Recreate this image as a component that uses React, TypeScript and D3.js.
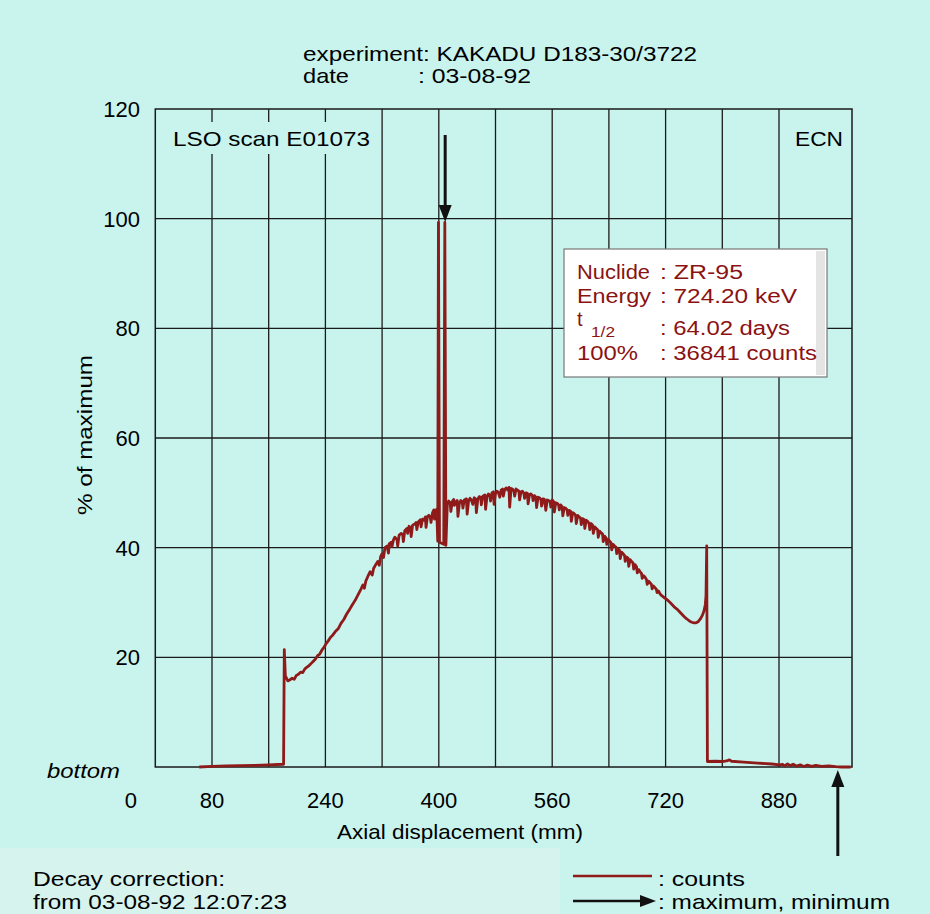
import React from "react";
import * as d3 from "d3";

// ---------- data ----------
const xGridMm = [80, 160, 240, 320, 400, 480, 560, 640, 720, 800, 880];
const xTickLabels = [80, 240, 400, 560, 720, 880];
const yGridPct = [20, 40, 60, 80, 100];
const yTickLabels = [20, 40, 60, 80, 100, 120];
const maxArrowMm = [409];
const minArrowMm = [963];

// axial displacement (mm), % of maximum
const countsProfile: [number, number][] = [
  [62, 0], [80, 0.1], [100, 0.2], [120, 0.25], [140, 0.3], [160, 0.4], [181, 0.5],
  [182, 21.4], [183.5, 16.6], [187, 15.7], [190, 15.9], [193, 16.2], [196, 16.0], [199, 16.7],
  [202, 16.9], [205, 17.3], [208, 17.2], [211, 17.9], [214, 18.2], [217, 18.5], [220, 18.9],
  [223, 19.3], [226, 19.7], [229, 20.3], [232, 20.6], [235, 21.3], [238, 21.8], [241, 22.5],
  [244, 23.0], [247, 23.6], [250, 24.0], [254, 24.7], [258, 25.2], [262, 26.2], [266, 26.9],
  [270, 27.9], [274, 28.7], [278, 29.6], [282, 30.4], [286, 31.4], [290, 32.4], [293, 33.2],
  [295, 32.6], [297, 33.9], [300, 34.8], [303, 35.6], [306, 35.0], [308, 36.2], [311, 36.9],
  [314, 37.5], [316, 36.8], [318, 38.4], [320, 38.9], [322, 38.2], [324, 40.0], [327, 40.3],
  [329, 39.0], [330, 40.7], [333, 41.0], [334, 40.2], [336, 41.4], [338, 41.9], [341, 41.5],
  [342, 40.3], [344, 42.3], [347, 42.6], [349, 42.4], [350, 41.1], [352, 43.1], [355, 43.5],
  [356, 42.6], [358, 43.9], [360, 43.7], [361, 42.0], [363, 44.1], [366, 44.3], [368, 44.6],
  [369, 43.3], [371, 44.7], [374, 45.1], [375, 43.8], [377, 45.2], [379, 45.0], [381, 45.6],
  [382, 43.7], [384, 45.7], [386, 45.9], [388, 45.5], [389, 44.6], [391, 46.3], [393, 46.9],
  [394, 45.2], [395, 46.4], [397, 47.0], [398.5, 41.2], [399.5, 99.3], [401, 41.0], [407, 40.6],
  [408.5, 99.3], [410, 40.4], [412, 47.9], [414, 48.5], [416, 48.2], [417, 46.6], [419, 48.4],
  [421, 48.8], [422, 47.7], [424, 48.3], [426, 48.6], [427, 45.7], [429, 48.0], [431, 48.6],
  [433, 48.4], [434, 47.2], [436, 48.7], [439, 48.9], [440, 46.1], [442, 48.5], [444, 49.0],
  [446, 48.7], [448, 47.9], [450, 49.1], [452, 48.9], [453, 46.4], [455, 48.8], [457, 49.3],
  [459, 49.2], [460, 47.8], [462, 49.4], [465, 49.6], [466, 47.0], [468, 49.3], [470, 49.8],
  [472, 49.5], [473, 48.5], [475, 50.0], [477, 50.2], [478, 47.9], [480, 49.9], [482, 50.3],
  [484, 50.1], [486, 49.2], [488, 50.5], [490, 50.7], [491, 49.4], [493, 50.6], [495, 50.9],
  [497, 50.5], [499, 51.0], [500, 47.4], [502, 50.8], [504, 50.7], [506, 50.3], [507, 49.4],
  [509, 50.7], [511, 50.5], [513, 50.3], [514, 48.7], [516, 50.2], [518, 50.3], [520, 49.9],
  [521, 49.0], [523, 50.0], [525, 49.9], [526, 48.0], [528, 49.7], [530, 49.8], [532, 49.5],
  [533, 48.6], [535, 49.5], [537, 49.2], [538, 47.3], [540, 49.2], [542, 49.1], [544, 48.8],
  [545, 47.6], [547, 48.9], [549, 48.8], [551, 46.8], [553, 48.7], [555, 48.6], [557, 48.4],
  [558, 47.4], [560, 48.7], [562, 48.4], [563, 46.5], [565, 48.2], [567, 48.1], [569, 47.8],
  [570, 46.9], [572, 47.8], [574, 47.5], [575, 45.8], [577, 47.3], [579, 47.2], [581, 46.9],
  [582, 45.9], [584, 46.8], [586, 46.6], [587, 44.8], [589, 46.4], [591, 46.2], [593, 45.9],
  [594, 44.4], [596, 45.9], [598, 45.6], [600, 45.4], [601, 44.2], [603, 45.3], [605, 45.1],
  [606, 43.5], [608, 45.0], [610, 44.8], [612, 44.4], [613, 43.3], [615, 44.4], [617, 44.1],
  [618, 42.6], [620, 43.8], [622, 43.5], [624, 43.3], [625, 41.9], [627, 43.0], [629, 42.7],
  [631, 42.5], [632, 41.1], [634, 42.1], [636, 41.8], [637, 40.6], [639, 41.5], [641, 41.2],
  [643, 40.9], [644, 39.6], [646, 40.6], [648, 40.3], [650, 40.1], [651, 38.9], [653, 39.8],
  [655, 39.5], [656, 38.0], [658, 39.2], [660, 38.9], [662, 38.6], [663, 37.5], [665, 38.3],
  [667, 38.1], [668, 36.6], [670, 37.8], [672, 37.5], [674, 37.2], [675, 36.1], [677, 36.9],
  [679, 36.5], [680, 35.4], [682, 36.0], [684, 35.6], [686, 35.3], [687, 34.4], [689, 34.9],
  [691, 34.6], [693, 34.2], [694, 33.3], [696, 33.9], [698, 33.6], [700, 33.3], [701, 32.5],
  [703, 33.0], [705, 32.7], [707, 32.4], [708, 31.8], [710, 32.1], [712, 31.6], [714, 31.3],
  [716, 31.1], [718, 30.9], [721, 30.6], [724, 30.3], [727, 29.9], [730, 29.5], [733, 29.1],
  [736, 28.8], [739, 28.4], [742, 28.0], [745, 27.6], [748, 27.2], [751, 26.9], [754, 26.6],
  [757, 26.4], [760, 26.3], [763, 26.3], [766, 26.5], [769, 27.0], [772, 27.7], [774, 28.4],
  [776, 29.6], [777, 31.2], [778, 40.3], [779, 1.0], [790, 1.05], [800, 1.0], [806, 1.1],
  [810, 1.3], [813, 1.05], [830, 0.9], [850, 0.7], [870, 0.55], [881, 0.4], [885, 0.5],
  [888, 0.2], [892, 0.55], [896, 0.25], [900, 0.5], [905, 0.15], [910, 0.4], [915, 0.1],
  [920, 0.35], [926, 0.1], [932, 0.3], [940, 0.1], [950, 0.2], [960, 0.05], [968, 0], [981, 0],
];

// ---------- layout ----------
const W = 930;
const H = 914;
const BG = "#c9f4ee";
const RED = "#8e1a1a";
const FONT = "'Liberation Sans', Arial, Helvetica, sans-serif";

const x = d3.scaleLinear().domain([0, 983]).range([155.3, 852]);
const y = d3.scaleLinear().domain([0, 120]).range([767, 109]);

export default function App() {
  const line = d3
    .line<[number, number]>()
    .x((d) => x(d[0]))
    .y((d) => y(d[1]));
  const [x0, x1] = x.range();
  const [yb, yt] = y.range();
  const mx = x(maxArrowMm[0]);
  const mn = x(minArrowMm[0]);

  return (
    <div style={{ position: "fixed", left: 0, top: 0 }}>
      <svg width={W} height={H} style={{ display: "block" }} fontFamily={FONT}>
        <rect x={0} y={0} width={W} height={H} fill={BG} />
        <rect x={0} y={848} width={560} height={66} fill="#d6f3ee" />

        {/* title */}
        <text x={303} y={61} fontSize={21} textLength={394} lengthAdjust="spacingAndGlyphs">
          experiment: KAKADU D183-30/3722
        </text>
        <text x={303} y={83} fontSize={21} textLength={46} lengthAdjust="spacingAndGlyphs">
          date
        </text>
        <text x={418} y={83} fontSize={21} textLength={113} lengthAdjust="spacingAndGlyphs">
          : 03-08-92
        </text>

        {/* grid */}
        {xGridMm.map((v) => (
          <line key={"gx" + v} x1={x(v)} x2={x(v)} y1={yt} y2={yb} stroke="#1a1a1a" strokeWidth={1.3} />
        ))}
        {yGridPct.map((v) => (
          <line key={"gy" + v} x1={x0} x2={x1} y1={y(v)} y2={y(v)} stroke="#1a1a1a" strokeWidth={1.3} />
        ))}
        <rect x={x0} y={yt} width={x1 - x0} height={yb - yt} fill="none" stroke="#1a1a1a" strokeWidth={1.5} />

        {/* corner labels */}
        <rect x={163} y={122} width={217} height={32} fill={BG} />
        <text x={173} y={146} fontSize={21} textLength={197} lengthAdjust="spacingAndGlyphs">
          LSO scan E01073
        </text>
        <text x={795} y={146} fontSize={21} textLength={48} lengthAdjust="spacingAndGlyphs">
          ECN
        </text>

        {/* y ticks */}
        {yTickLabels.map((v) => (
          <text key={"yl" + v} x={140} y={y(v) + 8} fontSize={22} textAnchor="end">
            {v}
          </text>
        ))}
        <text x={137} y={808} fontSize={22} textAnchor="end">0</text>
        <text x={47} y={778} fontSize={21} fontStyle="italic" textLength={73} lengthAdjust="spacingAndGlyphs">
          bottom
        </text>
        <text
          transform="translate(92,435) rotate(-90)"
          fontSize={21}
          textAnchor="middle"
          textLength={160}
          lengthAdjust="spacingAndGlyphs"
        >
          % of maximum
        </text>

        {/* x ticks */}
        {xTickLabels.map((v) => (
          <text key={"xl" + v} x={x(v)} y={808} fontSize={22} textAnchor="middle">
            {v}
          </text>
        ))}
        <text x={337} y={839} fontSize={21} textLength={246} lengthAdjust="spacingAndGlyphs">
          Axial displacement (mm)
        </text>

        {/* data */}
        <path
          d={line(countsProfile) || ""}
          fill="none"
          stroke={RED}
          strokeWidth={2.8}
          strokeLinejoin="round"
        />

        {/* max / min arrows */}
        <line x1={mx} x2={mx} y1={135} y2={207} stroke="#111" strokeWidth={3} />
        <polygon points={`${mx - 6.5},205 ${mx + 6.5},205 ${mx},222`} fill="#111" />
        <line x1={mn} x2={mn} y1={856} y2={784} stroke="#111" strokeWidth={3} />
        <polygon points={`${mn - 6.5},787 ${mn + 6.5},787 ${mn},770`} fill="#111" />

        {/* info box */}
        <rect x={564} y={249} width={263} height={128} fill="#ffffff" stroke="#777" strokeWidth={1.2} />
        <rect x={816} y={251} width={9} height={124} fill="#e4e4e4" />
        <g fill="#8b1212" fontSize={20}>
          <text x={577} y={279} textLength={73} lengthAdjust="spacingAndGlyphs">Nuclide</text>
          <text x={660} y={279} textLength={83} lengthAdjust="spacingAndGlyphs">: ZR-95</text>
          <text x={577} y={303} textLength={74} lengthAdjust="spacingAndGlyphs">Energy</text>
          <text x={660} y={303} textLength={137} lengthAdjust="spacingAndGlyphs">: 724.20 keV</text>
          <text x={577} y={326}>t</text>
          <text x={591} y={337} fontSize={15} textLength={24} lengthAdjust="spacingAndGlyphs">1/2</text>
          <text x={660} y={335} textLength={130} lengthAdjust="spacingAndGlyphs">: 64.02 days</text>
          <text x={577} y={360} textLength={61} lengthAdjust="spacingAndGlyphs">100%</text>
          <text x={660} y={360} textLength={157} lengthAdjust="spacingAndGlyphs">: 36841 counts</text>
        </g>

        {/* footer */}
        <text x={33} y={886} fontSize={21} textLength={192} lengthAdjust="spacingAndGlyphs">
          Decay correction:
        </text>
        <text x={33} y={909} fontSize={21} textLength={254} lengthAdjust="spacingAndGlyphs">
          from 03-08-92 12:07:23
        </text>

        {/* legend */}
        <line x1={573} x2={652} y1={876} y2={876} stroke={RED} strokeWidth={2.5} />
        <text x={658} y={886} fontSize={21} textLength={87} lengthAdjust="spacingAndGlyphs">
          : counts
        </text>
        <line x1={573} x2={642} y1={901} y2={901} stroke="#111" strokeWidth={2.5} />
        <polygon points="640,895 656,901 640,907" fill="#111" />
        <text x={658} y={909} fontSize={21} textLength={232} lengthAdjust="spacingAndGlyphs">
          : maximum, minimum
        </text>
      </svg>
    </div>
  );
}
